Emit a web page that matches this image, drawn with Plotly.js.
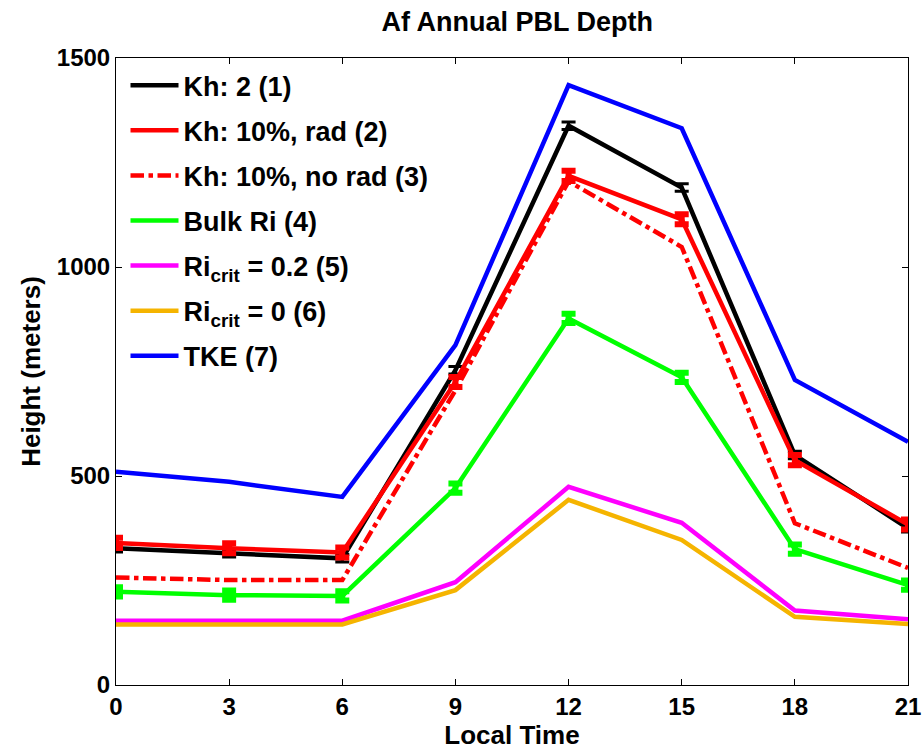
<!DOCTYPE html>
<html><head><meta charset="utf-8">
<script src="https://cdn.plot.ly/plotly-3.0.1.min.js"></script>
<style>body{margin:0;background:#fff}#chart{width:922px;height:754px}</style>
</head><body><div id="chart"></div>
<script>
const hours = [0, 3, 6, 9, 12, 15, 18, 21];
const khTwo = [327, 315, 303, 753, 1338, 1190, 550, 375];
const khTwoErr = [9, 9, 9, 9, 9, 9, 9, 9];
const khRad = [340, 327, 317, 725, 1218, 1114, 538, 384];
const khRadErr = [12, 12, 12, 12, 12, 12, 12, 12];
const khNoRad = [257, 251, 251, 705, 1205, 1048, 387, 280];
const bulkRi = [223, 215, 213, 471, 877, 736, 325, 239];
const bulkRiErr = [11, 11, 11, 11, 11, 11, 11, 11];
const riCrit02 = [154, 154, 154, 246, 474, 388, 178, 157];
const riCrit0 = [145, 145, 145, 227, 443, 347, 163, 146];
const tke = [510, 486, 450, 813, 1435, 1332, 730, 582];
const names = ["Kh: 2 (1)", "Kh: 10%, rad (2)", "Kh: 10%, no rad (3)", "Bulk Ri (4)",
  "Ri<sub>crit</sub> = 0.2 (5)", "Ri<sub>crit</sub> = 0 (6)", "TKE (7)"];
const xTicks = [0, 3, 6, 9, 12, 15, 18, 21];
const yTicks = [0, 500, 1000, 1500];

function tr(y, name, color, dash, err, thick) {
  const t = {x: hours, y: y, name: name, legendgroup: name, mode: "lines", type: "scatter",
    line: {color: color, width: 4.5, dash: dash || "solid"}};
  if (err) t.error_y = {type: "data", array: err, visible: true, color: color, thickness: thick, width: 7};
  return t;
}
const data = [
  tr(khTwo, names[0], "#000000", null, khTwoErr, 3),
  tr(khRad, names[1], "#ff0000", null, khRadErr, 6),
  tr(khNoRad, names[2], "#ff0000", "dashdot"),
  tr(bulkRi, names[3], "#00ff00", null, bulkRiErr, 6),
  tr(riCrit02, names[4], "#ff00ff"),
  tr(riCrit0, names[5], "#f5b400"),
  tr(tke, names[6], "#0000ff")
];
const font = {family: "Liberation Sans, Arial, sans-serif", color: "#000"};
const layout = {
  width: 922, height: 754,
  margin: {l: 116, r: 14, t: 58, b: 69},
  paper_bgcolor: "#fff", plot_bgcolor: "#fff",
  title: {text: "<b>Af Annual PBL Depth</b>", x: 0.561, xanchor: "center", y: 0.971, yanchor: "middle",
    font: Object.assign({size: 27}, font)},
  showlegend: true,
  legend: {x: 0.012, y: 0.995, xanchor: "left", yanchor: "top", bgcolor: "rgba(0,0,0,0)",
    font: Object.assign({size: 27, weight: "bold"}, font), tracegroupgap: 7, itemwidth: 48},
  xaxis: {range: [0, 21], tickvals: xTicks, ticktext: xTicks.map(v => "<b>" + v + "</b>"),
    ticks: "inside", ticklen: 6, tickcolor: "#000", showgrid: false, zeroline: false,
    showline: true, linecolor: "#000", linewidth: 1, mirror: "ticks",
    tickfont: Object.assign({size: 24}, font),
    title: {text: "<b>Local Time</b>", font: Object.assign({size: 26}, font), standoff: 0}},
  yaxis: {range: [0, 1500], tickvals: yTicks, ticktext: yTicks.map(v => "<b>" + v + "</b>"),
    ticks: "inside", ticklen: 6, tickcolor: "#000", showgrid: false, zeroline: false,
    showline: true, linecolor: "#000", linewidth: 1, mirror: "ticks",
    tickfont: Object.assign({size: 24}, font),
    title: {text: "<b>Height (meters)</b>", font: Object.assign({size: 26}, font), standoff: 8}}
};
Plotly.newPlot("chart", data, layout, {displayModeBar: false});
</script></body></html>
